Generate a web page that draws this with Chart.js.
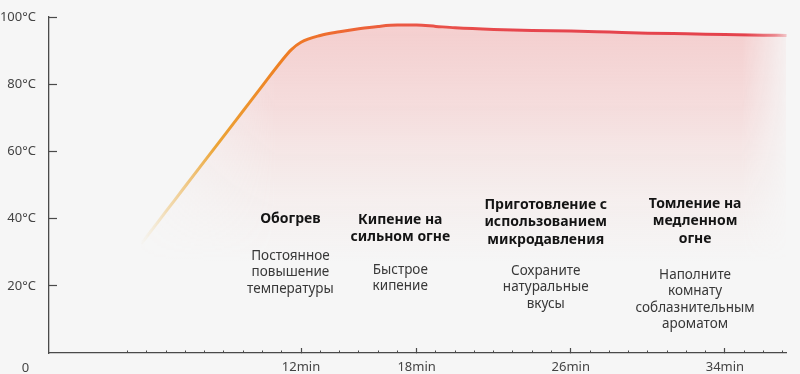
<!DOCTYPE html>
<html><head><meta charset="utf-8">
<script src="https://cdn.jsdelivr.net/npm/chart.js@4"></script>
<style>html,body{margin:0;padding:0;background:#f6f6f6;overflow:hidden}</style>
</head><body>
<canvas id="c" width="800" height="374"></canvas>
<script>
// ---- data ----
const minutes = [3.7, 4, 5, 6, 7, 8, 9, 10, 11, 11.5, 12, 13, 14, 15, 16, 17, 18, 19, 20, 22, 24, 26, 28, 30, 32, 34, 36, 37.2];
const temps   = [32.5, 34.7, 42.2, 49.7, 57.2, 64.6, 72.1, 79.6, 87.0, 90.3, 92.5, 94.5, 95.6, 96.5, 97.2, 97.6, 97.6, 97.2, 96.8, 96.3, 96, 95.8, 95.5, 95.2, 95, 94.8, 94.6, 94.5];
const yTicks = [0, 20, 40, 60, 80, 100];
const yTickLabels = ['0', '20°C', '40°C', '60°C', '80°C', '100°C'];
const minorTicks = [3, 4, 5, 6, 7, 8, 9, 10, 11, 12, 13, 14, 15, 16, 17, 18, 19, 20, 21, 22, 23, 24, 25, 26, 27, 28, 29, 30, 31, 32, 33, 34, 35, 36, 37];
const majorTicks = [12, 18, 26, 34];
const majorLabels = ['12min', '18min', '26min', '34min'];
const phaseTitles = [['Обогрев'], ['Кипение на', 'сильном огне'], ['Приготовление с', 'использованием', 'микродавления'], ['Томление на', 'медленном', 'огне']];
const phaseNotes = [['Постоянное', 'повышение', 'температуры'], ['Быстрое', 'кипение'], ['Сохраните', 'натуральные', 'вкусы'], ['Наполните', 'комнату', 'соблазнительным', 'ароматом']];

// ---- layout / style ----
const FONT = '"Noto Sans", "DejaVu Sans", sans-serif';
const phaseCenter = [11.45, 17.15, 24.7, 32.45];
const titleY = [219, 220, 205, 204];
const noteY = [256, 270, 271, 275];
const titleLH = 17.5, noteLH = 16.5;
const AXIS = '#4a4a4a';

Chart.defaults.font.family = FONT;

function noPad(s) { s.paddingTop = 0; s.paddingBottom = 0; s.paddingLeft = 0; s.paddingRight = 0; }

let fillPat = null;
function getFill(chart) {
  if (!chart.chartArea) return 'transparent';
  if (fillPat) return fillPat;
  const w = chart.width, h = chart.height;
  const off = document.createElement('canvas');
  off.width = w; off.height = h;
  const o = off.getContext('2d');
  const g = o.createLinearGradient(0, 20, 0, 262);
  g.addColorStop(0, 'rgba(242,150,150,0.42)');
  g.addColorStop(0.35, 'rgba(242,160,160,0.3)');
  g.addColorStop(0.7, 'rgba(242,180,175,0.13)');
  g.addColorStop(1, 'rgba(242,190,185,0)');
  o.fillStyle = g; o.fillRect(0, 0, w, h);
  o.globalCompositeOperation = 'destination-in';
  const hg = o.createLinearGradient(130, 0, 795, 0);
  hg.addColorStop(0, 'rgba(0,0,0,0)');
  hg.addColorStop(0.22, 'rgba(0,0,0,1)');
  hg.addColorStop(0.92, 'rgba(0,0,0,1)');
  hg.addColorStop(1, 'rgba(0,0,0,0)');
  o.fillStyle = hg; o.fillRect(0, 0, w, h);
  fillPat = chart.ctx.createPattern(off, 'no-repeat');
  return fillPat;
}
let lineGrad = null;
function getLine(chart) {
  if (!chart.chartArea) return '#e85';
  if (lineGrad) return lineGrad;
  const g = chart.ctx.createLinearGradient(138, 0, 795, 0);
  const L = 657;
  const s = (px, c) => g.addColorStop(Math.min(1, Math.max(0, (px - 138) / L)), c);
  s(140, 'rgba(240,215,160,0)');
  s(168, 'rgba(238,200,130,0.6)');
  s(215, 'rgb(236,165,55)');
  s(280, 'rgb(238,128,35)');
  s(330, 'rgb(238,108,48)');
  s(420, 'rgb(234,84,72)');
  s(520, 'rgb(230,70,78)');
  s(745, 'rgb(228,66,76)');
  s(775, 'rgba(228,66,76,0.6)');
  s(795, 'rgba(228,66,76,0)');
  lineGrad = g;
  return g;
}

const phasePlugin = {
  id: 'phases',
  afterDraw(chart) {
    const ctx = chart.ctx, xs = chart.scales.x;
    ctx.save();
    ctx.textAlign = 'center';
    ctx.textBaseline = 'middle';
    phaseTitles.forEach((lines, i) => {
      const cx = xs.getPixelForValue(phaseCenter[i]);
      ctx.font = 'bold 14px ' + FONT;
      ctx.fillStyle = '#141414';
      lines.forEach((t, j) => ctx.fillText(t, cx, titleY[i] + j * titleLH));
      ctx.font = '13.5px ' + FONT;
      ctx.fillStyle = '#383838';
      phaseNotes[i].forEach((t, j) => ctx.fillText(t, cx, noteY[i] + j * noteLH));
    });
    ctx.restore();
  }
};

new Chart(document.getElementById('c'), {
  type: 'line',
  data: {
    datasets: [{
      data: minutes.map((m, i) => ({ x: m, y: temps[i] })),
      borderColor: ctx => getLine(ctx.chart),
      backgroundColor: ctx => getFill(ctx.chart),
      fill: 'start',
      borderWidth: 3,
      pointRadius: 0,
      cubicInterpolationMode: 'monotone',
      clip: false
    }]
  },
  options: {
    responsive: false,
    animation: false,
    events: [],
    layout: { padding: { top: 17, right: 14, left: 0, bottom: 0 } },
    plugins: { legend: { display: false }, tooltip: { enabled: false } },
    scales: {
      x: {
        type: 'linear', min: -1.08, max: 37.17,
        afterBuildTicks: s => { s.ticks = majorTicks.map(v => ({ value: v })); },
        afterFit: s => { s.height = 21; noPad(s); },
        ticks: { callback: v => majorLabels[majorTicks.indexOf(v)], padding: 11, maxRotation: 0, autoSkip: false, color: '#444', font: { size: 13 } },
        grid: { drawOnChartArea: false, tickLength: -5, color: AXIS, tickWidth: 1.2 },
        border: { color: AXIS, width: 1.3 }
      },
      xMinor: {
        type: 'linear', axis: 'x', position: { y: 0 }, min: -1.08, max: 37.17,
        afterBuildTicks: s => { s.ticks = minorTicks.map(v => ({ value: v })); },
        afterFit: s => { noPad(s); },
        ticks: { display: false },
        grid: { drawOnChartArea: false, tickLength: -2.5, color: AXIS, tickWidth: 1 },
        border: { display: false }
      },
      y: {
        min: 0, max: 100,
        afterBuildTicks: s => { s.ticks = yTicks.map(v => ({ value: v })); },
        afterFit: s => { s.width = 49; noPad(s); },
        ticks: {
          callback: v => v === 0 ? ['', '', '0  '] : yTickLabels[yTicks.indexOf(v)],
          padding: 21, color: '#444', font: { size: 13 }
        },
        grid: { drawOnChartArea: false, tickLength: -8, color: AXIS, tickColor: c => (c.tick && c.tick.value === 0) ? 'rgba(0,0,0,0)' : AXIS, tickWidth: 1.2 },
        border: { color: AXIS, width: 1.3 }
      }
    }
  },
  plugins: [phasePlugin]
});
</script>
</body></html>
